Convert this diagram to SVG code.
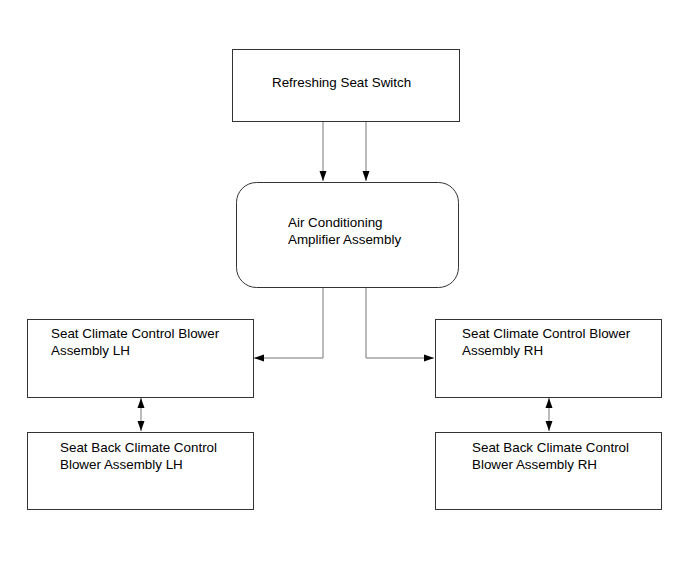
<svg xmlns="http://www.w3.org/2000/svg" width="690" height="564" viewBox="0 0 690 564">
<style>
.box{fill:#fff;stroke:#333;stroke-width:1}
.t{font-family:"Liberation Sans",Arial,sans-serif;font-size:13.4px;fill:#000}
.c{fill:none;stroke:#777;stroke-width:1}
</style>
<defs>
<marker id="ah" viewBox="0 0 10 10" refX="10" refY="5" markerWidth="10" markerHeight="10" markerUnits="userSpaceOnUse" orient="auto-start-reverse">
<path d="M0,1.5 L10,5 L0,8.5 Z" fill="#000"/>
</marker>
</defs>
<rect width="690" height="564" fill="#fff"/>
<g id="connectors">
<line class="c" x1="323" y1="121" x2="323" y2="181" marker-end="url(#ah)"/>
<line class="c" x1="366" y1="121" x2="366" y2="181" marker-end="url(#ah)"/>
<polyline class="c" points="323,287 323,358 254,358" marker-end="url(#ah)"/>
<polyline class="c" points="366,287 366,358 434,358" marker-end="url(#ah)"/>
<line class="c" x1="141" y1="398" x2="141" y2="431" marker-start="url(#ah)" marker-end="url(#ah)"/>
<line class="c" x1="549" y1="398" x2="549" y2="431" marker-start="url(#ah)" marker-end="url(#ah)"/>
</g>
<g id="switch">
<rect class="box" x="232.5" y="49.5" width="227" height="72"/>
<text class="t" x="272" y="87">Refreshing Seat Switch</text>
</g>
<g id="amplifier">
<rect class="box" x="236.5" y="182.5" width="222" height="105" rx="20" ry="20"/>
<text class="t" x="288" y="227">Air Conditioning</text>
<text class="t" x="288" y="244">Amplifier Assembly</text>
</g>
<g id="blower-lh">
<rect class="box" x="27.5" y="319.5" width="226" height="78"/>
<text class="t" x="51" y="338">Seat Climate Control Blower</text>
<text class="t" x="51" y="355">Assembly LH</text>
</g>
<g id="blower-rh">
<rect class="box" x="435.5" y="319.5" width="226" height="78"/>
<text class="t" x="462" y="338">Seat Climate Control Blower</text>
<text class="t" x="462" y="355">Assembly RH</text>
</g>
<g id="back-lh">
<rect class="box" x="27.5" y="432.5" width="226" height="77"/>
<text class="t" x="60" y="452">Seat Back Climate Control</text>
<text class="t" x="60" y="469">Blower Assembly LH</text>
</g>
<g id="back-rh">
<rect class="box" x="435.5" y="432.5" width="226" height="77"/>
<text class="t" x="472" y="452">Seat Back Climate Control</text>
<text class="t" x="472" y="469">Blower Assembly RH</text>
</g>
</svg>
